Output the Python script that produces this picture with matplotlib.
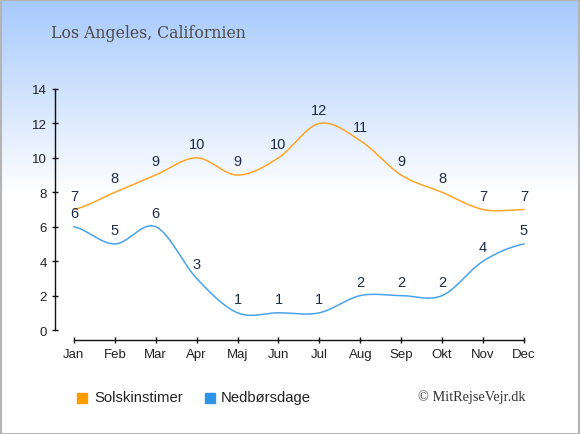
import numpy as np
import matplotlib.pyplot as plt

months = ['Jan', 'Feb', 'Mar', 'Apr', 'Maj', 'Jun', 'Jul', 'Aug', 'Sep', 'Okt', 'Nov', 'Dec']
sun_hours = [7, 8, 9, 10, 9, 10, 12, 11, 9, 8, 7, 7]
rain_days = [6, 5, 6, 3, 1, 1, 1, 2, 2, 2, 4, 5]
y_ticks = [0, 2, 4, 6, 8, 10, 12, 14]

title = 'Los Angeles, Californien'
legend_names = ['Solskinstimer', 'Nedbørsdage']
credit = '© MitRejseVejr.dk'

sun_col = '#ffa52a'
rain_col = '#4aa2ea'
label_col = '#1e2b48'


def smooth(xs, ys, n=40):
    # catmull-rom through the points (endpoints duplicated)
    xs = np.asarray(xs, float)
    ys = np.asarray(ys, float)
    m = len(ys)
    tang = np.zeros(m)
    for i in range(m):
        a = ys[max(i - 1, 0)]
        b = ys[min(i + 1, m - 1)]
        tang[i] = (b - a) / 2
    t = np.linspace(0, 1, n)
    h00 = 2 * t ** 3 - 3 * t ** 2 + 1
    h10 = t ** 3 - 2 * t ** 2 + t
    h01 = -2 * t ** 3 + 3 * t ** 2
    h11 = t ** 3 - t ** 2
    outx, outy = [], []
    for i in range(m - 1):
        dx = xs[i + 1] - xs[i]
        outx.extend(xs[i] + t * dx)
        outy.extend(h00 * ys[i] + h10 * tang[i] + h01 * ys[i + 1] + h11 * tang[i + 1])
    return np.array(outx), np.array(outy)


fig = plt.figure(figsize=(5.8, 4.35), dpi=100)

# background gradient
bg = fig.add_axes([0, 0, 1, 1])
bg.set_axis_off()
grad = np.ones((435, 1, 3))
top = np.array([0xa6, 0xc9, 0xfc]) / 255
for r in range(435):
    f = min(r / 195.0, 1.0)
    grad[r, 0] = top * (1 - f) + f
bg.imshow(grad, aspect='auto', extent=[0, 1, 0, 1])
bg.set_xlim(0, 1)
bg.set_ylim(0, 1)
bg.add_patch(plt.Rectangle((0.001, 0.001), 0.998, 0.997, fill=False,
                           edgecolor='#b4b4b4', lw=1.5, transform=bg.transAxes))

ax = fig.add_axes([55 / 580, 94 / 435, 469 / 580, 251 / 435])
ax.patch.set_alpha(0)

x = np.arange(len(months))
sx, sy = smooth(x, sun_hours)
rx, ry = smooth(x, rain_days)
ax.plot(sx, sy, color=sun_col, lw=1.1, clip_on=False)
ax.plot(rx, ry, color=rain_col, lw=1.1, clip_on=False)

for xi, v in zip(x, sun_hours):
    ax.annotate(str(v), (xi, v), xytext=(0, 10), textcoords='offset points',
                ha='center', va='center', fontsize=10.5, color=label_col,
                family='Liberation Sans', annotation_clip=False)
for xi, v in zip(x, rain_days):
    ax.annotate(str(v), (xi, v), xytext=(0, 10), textcoords='offset points',
                ha='center', va='center', fontsize=10.5, color=label_col,
                family='Liberation Sans', annotation_clip=False)

ax.set_xlim(-0.46, 11)
ax.set_ylim(-0.58, 14)
ax.set_xticks(x)
ax.set_xticklabels(months)
ax.set_yticks(y_ticks)
for s in ['top', 'right']:
    ax.spines[s].set_visible(False)
ax.spines['left'].set_bounds(0, 14)
ax.spines['bottom'].set_bounds(0, 11)
for s in ['left', 'bottom']:
    ax.spines[s].set_color('#111111')
    ax.spines[s].set_linewidth(1.0)
ax.tick_params(direction='inout', length=5, width=1, color='#111111',
               labelsize=9.5, labelcolor='#222222')
for lab in ax.get_xticklabels() + ax.get_yticklabels():
    lab.set_family('Liberation Sans')

fig.text(51 / 580, 1 - 33 / 435, title, family='DejaVu Serif', fontsize=11.3,
         color='#4a4a4a', va='center', ha='left')

# legend
fig.patches.append(plt.Rectangle((77 / 580, 1 - 404 / 435), 10 / 580, 10 / 435,
                                 color='#ff9d00', transform=fig.transFigure))
fig.text(94 / 580, 1 - 398 / 435, legend_names[0], family='Liberation Sans',
         fontsize=10.7, color='#222222', va='center', ha='left')
fig.patches.append(plt.Rectangle((205 / 580, 1 - 404 / 435), 10 / 580, 10 / 435,
                                 color='#2f94e8', transform=fig.transFigure))
fig.text(221 / 580, 1 - 398 / 435, legend_names[1], family='Liberation Sans',
         fontsize=10.7, color='#222222', va='center', ha='left')

fig.text(526 / 580, 1 - 397 / 435, credit, family='Liberation Serif',
         fontsize=10.3, color='#333333', va='center', ha='right')

fig.savefig('out.png', dpi=100)
